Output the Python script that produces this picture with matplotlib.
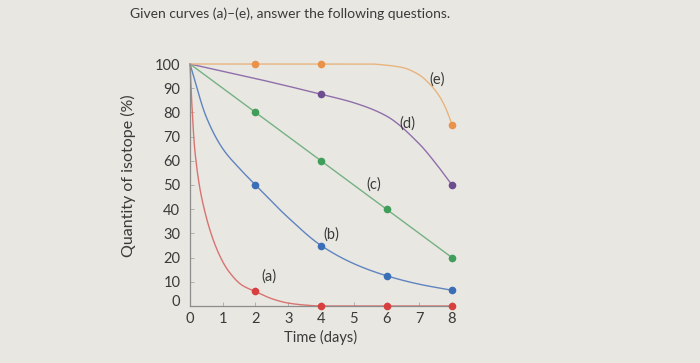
import matplotlib
matplotlib.use("Agg")
import matplotlib.pyplot as plt
import numpy as np

# ----------------------------
# Data
# ----------------------------
# curve outlines
a_x = [0, 0.05, 0.15, 0.4, 0.9, 1.2, 1.6, 2.0, 2.5, 3.0, 3.5, 4.0, 6.0, 8.0]
a_y = [100, 85, 64, 42, 21, 14, 8.5, 6, 3, 1.2, 0.4, 0, 0, 0]

b_x = [0, 0.5, 1.0, 1.5, 2.0, 3.0, 4.0, 5.0, 6.0, 7.0, 8.0]
b_y = [100, 78, 65, 57, 50, 36.5, 25, 17.5, 12.5, 9, 6.5]

c_x = [0, 2, 4, 6, 8]
c_y = [100, 80, 60, 40, 20]

d_x = [0, 2, 4, 5, 6, 7, 7.5, 8]
d_y = [100, 94, 87.5, 84, 78.5, 67, 59, 50]

e_x = [0, 2, 4, 5, 5.5, 6, 6.5, 7, 7.3, 7.6, 7.8, 8]
e_y = [100, 100, 100, 100, 100, 99.5, 98.5, 95.5, 92, 87, 82, 75]

# marked points
a_pts = ([2, 4, 6, 8], [6, 0, 0, 0])
b_pts = ([2, 4, 6, 8], [50, 25, 12.5, 6.5])
c_pts = ([2, 4, 6, 8], [80, 60, 40, 20])
d_pts = ([4, 8], [87.5, 50])
e_pts = ([2, 4, 8], [100, 100, 75])

labels = ["(a)", "(b)", "(c)", "(d)", "(e)"]
label_pos = [(2.4, 12), (4.3, 29.5), (5.6, 50), (6.65, 75.5), (7.55, 93.5)]

line_colors = ["#d97370", "#5f84bf", "#74b283", "#8f6fab", "#e8b47e"]
dot_colors = ["#d8403f", "#3a6fb8", "#3f9e5a", "#6d4c90", "#e8924a"]

xticks = [0, 1, 2, 3, 4, 5, 6, 7, 8]
yticks = [0, 10, 20, 30, 40, 50, 60, 70, 80, 90, 100]


def smooth(xs, ys, n=300):
    # monotone cubic (pchip) through the read points, only for drawing
    x = np.asarray(xs, float)
    y = np.asarray(ys, float)
    h = np.diff(x)
    dlt = np.diff(y) / h
    m = np.zeros_like(y)
    m[0], m[-1] = dlt[0], dlt[-1]
    for k in range(1, len(x) - 1):
        if dlt[k - 1] * dlt[k] > 0:
            w1 = 2 * h[k] + h[k - 1]
            w2 = h[k] + 2 * h[k - 1]
            m[k] = (w1 + w2) / (w1 / dlt[k - 1] + w2 / dlt[k])
    xx = np.linspace(x[0], x[-1], n)
    i = np.clip(np.searchsorted(x, xx) - 1, 0, len(x) - 2)
    t = (xx - x[i]) / h[i]
    h00 = 2 * t**3 - 3 * t**2 + 1
    h10 = t**3 - 2 * t**2 + t
    h01 = -2 * t**3 + 3 * t**2
    h11 = t**3 - t**2
    yy = h00 * y[i] + h10 * h[i] * m[i] + h01 * y[i + 1] + h11 * h[i] * m[i + 1]
    return xx, yy


# ----------------------------
# Plot styling
# ----------------------------
bg = "#e9e7e2"
text_col = "#3a3a3a"
plt.rcParams["font.family"] = ["Lato", "DejaVu Sans"]

fig = plt.figure(figsize=(7, 3.63), dpi=100, facecolor=bg)
ax = fig.add_axes([190 / 700, 57 / 363, 262 / 700, 242 / 363])
ax.set_facecolor(bg)

curves = [(a_x, a_y), (b_x, b_y), (c_x, c_y), (d_x, d_y), (e_x, e_y)]
points = [a_pts, b_pts, c_pts, d_pts, e_pts]

for (cx, cy), col in zip(curves, line_colors):
    sx, sy = smooth(cx, cy)
    ax.plot(sx, sy, color=col, linewidth=1.0, clip_on=False, zorder=2)

for (px, py), col in zip(points, dot_colors):
    ax.plot(px, py, "o", color=col, markersize=5.5, markeredgewidth=0,
            clip_on=False, zorder=3)

for lab, (lx, ly) in zip(labels, label_pos):
    ax.text(lx, ly, lab, ha="center", va="center", fontsize=10.5, color=text_col)

ax.set_xlim(0, 8)
ax.set_ylim(0, 100)
ax.set_xticks(xticks)
ax.set_yticks(yticks)
ax.set_xticklabels([str(t) for t in xticks])
ax.set_yticklabels([str(t) for t in yticks])
ax.get_yticklabels()[0].set_va("baseline")

for s in ["top", "right"]:
    ax.spines[s].set_visible(False)
for s in ["left", "bottom"]:
    ax.spines[s].set_color("#8c8c8c")
    ax.spines[s].set_linewidth(0.9)

ax.tick_params(axis="both", direction="in", length=3, width=0.7,
               color="#b0b0b0", labelsize=10.5, labelcolor=text_col)
ax.tick_params(axis="y", pad=7)
ax.tick_params(axis="x", pad=4)

ax.set_xlabel("Time (days)", fontsize=10.5, color=text_col, labelpad=3)
ax.set_ylabel("Quantity of isotope (%)", fontsize=11.5, color=text_col)
ax.yaxis.set_label_coords(-0.205, 0.54)

fig.text(130 / 700, 1 - 18 / 363, "Given curves (a)\u2013(e), answer the following questions.",
         ha="left", va="baseline", fontsize=10, color=text_col)

fig.savefig("out.png", dpi=100, facecolor=bg)
